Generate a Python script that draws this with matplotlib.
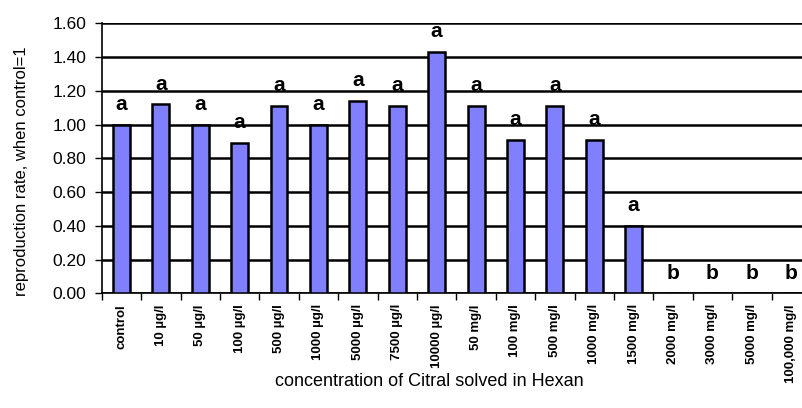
import matplotlib.pyplot as plt
import numpy as np

plt.rcParams['font.family'] = ['Liberation Sans', 'DejaVu Sans']

labels = ['control', '10 µg/l', '50 µg/l', '100 µg/l', '500 µg/l', '1000 µg/l',
          '5000 µg/l', '7500 µg/l', '10000 µg/l', '50 mg/l', '100 mg/l', '500 mg/l',
          '1000 mg/l', '1500 mg/l', '2000 mg/l', '3000 mg/l', '5000 mg/l', '100,000 mg/l']
values = [1.00, 1.12, 1.00, 0.89, 1.11, 1.00, 1.14, 1.11, 1.43,
          1.11, 0.91, 1.11, 0.91, 0.40, 0.0, 0.0, 0.0, 0.0]
groups = ['a'] * 14 + ['b'] * 4

fig = plt.figure(figsize=(8.02, 4.08), dpi=100)
ax = fig.add_axes([101.7 / 802, 1 - 293.3 / 408, (811 - 101.7) / 802, 270 / 408])

x = np.arange(len(labels))
ax.bar(x, values, width=0.43, color='#8080FF', edgecolor='black', linewidth=1.8, zorder=3)

for xi, v, g in zip(x, values, groups):
    ax.text(xi, v + 0.12, g, ha='center', va='center', fontsize=15,
            fontweight='bold', zorder=4)

ax.set_xlim(-0.5, len(labels) - 0.5)
ax.set_ylim(0, 1.6)
yt = np.arange(0, 1.61, 0.2)
ax.set_yticks(yt)
ax.set_yticklabels([f'{t:.2f}' for t in yt], fontsize=12.5)
ax.yaxis.grid(True, color='black', linewidth=1.8, zorder=1)
ax.tick_params(axis='y', length=5, width=1, pad=6)

# category separators as tick marks below the axis
ax.set_xticks(np.arange(-0.5, len(labels), 1.0))
ax.set_xticklabels([])
ax.tick_params(axis='x', length=5, width=1)

for s in ['top', 'right']:
    ax.spines[s].set_visible(False)
ax.spines['left'].set_linewidth(1.2)
ax.spines['bottom'].set_linewidth(1.2)

# rotated category labels, centred under each bar
trans = ax.get_xaxis_transform()
for xi, lab in zip(x, labels):
    ax.text(xi, -0.04, lab, rotation=90, ha='center', va='top',
            fontsize=9.5, fontweight='bold', transform=trans, clip_on=False)

fig.text(429 / 802, 1 - 381 / 408, 'concentration of Citral solved in Hexan',
         ha='center', va='center', fontsize=13)
fig.text(22 / 802, 1 - 171 / 408, 'reproduction rate, when control=1',
         rotation=90, ha='center', va='center', fontsize=12)

fig.savefig('out.png', dpi=100)
